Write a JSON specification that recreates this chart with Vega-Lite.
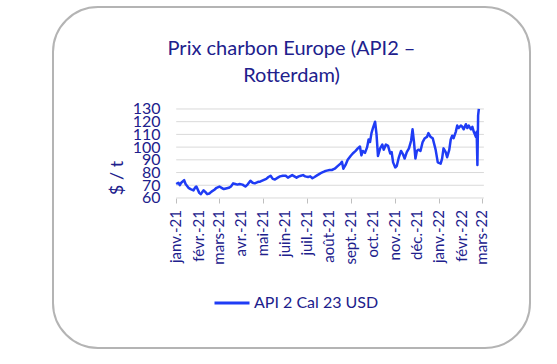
{
  "$schema": "https://vega.github.io/schema/vega-lite/v6.json",
  "autosize": "none",
  "width": 477,
  "height": 341,
  "padding": {"left": 53, "top": 7, "right": 27, "bottom": 16},
  "background": "white",
  "config": {
    "font": "Lato",
    "view": {"fill": "white", "stroke": "#b4b4b4", "strokeWidth": 2, "cornerRadius": 45},
    "axis": {"labelOverlap": false, "labelFlush": false, "labelBound": false}
  },
  "title": {
    "text": ["Prix charbon Europe (API2 –", "Rotterdam)"],
    "font": "Lato",
    "fontSize": 20,
    "fontWeight": "normal",
    "color": "#20208c",
    "lineHeight": 27,
    "anchor": "middle",
    "offset": -79
  },
  "datasets": {
    "grid": [{"g": 60}, {"g": 70}, {"g": 80}, {"g": 90}, {"g": 100}, {"g": 110}, {"g": 120}, {"g": 130}],
    "months": [
      {"m": "2021-01-01", "label": "janv.-21"}, {"m": "2021-02-01", "label": "févr.-21"}, {"m": "2021-03-01", "label": "mars-21"},
      {"m": "2021-04-01", "label": "avr.-21"}, {"m": "2021-05-01", "label": "mai-21"}, {"m": "2021-06-01", "label": "juin-21"},
      {"m": "2021-07-01", "label": "juil.-21"}, {"m": "2021-08-01", "label": "août-21"}, {"m": "2021-09-01", "label": "sept.-21"},
      {"m": "2021-10-01", "label": "oct.-21"}, {"m": "2021-11-01", "label": "nov.-21"}, {"m": "2021-12-01", "label": "déc.-21"},
      {"m": "2022-01-01", "label": "janv.-22"}, {"m": "2022-02-01", "label": "févr.-22"}, {"m": "2022-03-01", "label": "mars-22"}
    ],
    "prices": [
      {"date": "2021-01-01", "v": 71}, {"date": "2021-01-04", "v": 72}, {"date": "2021-01-06", "v": 70}, {"date": "2021-01-08", "v": 72},
      {"date": "2021-01-12", "v": 74}, {"date": "2021-01-14", "v": 71}, {"date": "2021-01-18", "v": 68}, {"date": "2021-01-21", "v": 67},
      {"date": "2021-01-25", "v": 66}, {"date": "2021-01-27", "v": 68}, {"date": "2021-01-29", "v": 69},
      {"date": "2021-02-02", "v": 64}, {"date": "2021-02-04", "v": 63}, {"date": "2021-02-08", "v": 66}, {"date": "2021-02-10", "v": 65},
      {"date": "2021-02-13", "v": 63}, {"date": "2021-02-16", "v": 63.5}, {"date": "2021-02-19", "v": 65}, {"date": "2021-02-23", "v": 66.5},
      {"date": "2021-02-26", "v": 68},
      {"date": "2021-03-02", "v": 69}, {"date": "2021-03-05", "v": 68}, {"date": "2021-03-08", "v": 67}, {"date": "2021-03-11", "v": 67.5},
      {"date": "2021-03-15", "v": 68}, {"date": "2021-03-18", "v": 69}, {"date": "2021-03-21", "v": 71.5}, {"date": "2021-03-24", "v": 71},
      {"date": "2021-03-27", "v": 70.5}, {"date": "2021-03-30", "v": 71},
      {"date": "2021-04-03", "v": 70.5}, {"date": "2021-04-07", "v": 69}, {"date": "2021-04-10", "v": 70.5}, {"date": "2021-04-14", "v": 73.5},
      {"date": "2021-04-17", "v": 72}, {"date": "2021-04-20", "v": 71.5}, {"date": "2021-04-24", "v": 72.5}, {"date": "2021-04-28", "v": 73},
      {"date": "2021-05-02", "v": 74}, {"date": "2021-05-06", "v": 75}, {"date": "2021-05-09", "v": 76.5}, {"date": "2021-05-12", "v": 77.5},
      {"date": "2021-05-15", "v": 75}, {"date": "2021-05-18", "v": 74.5}, {"date": "2021-05-22", "v": 76}, {"date": "2021-05-25", "v": 77},
      {"date": "2021-05-29", "v": 77.5},
      {"date": "2021-06-02", "v": 77.5}, {"date": "2021-06-05", "v": 76}, {"date": "2021-06-08", "v": 77}, {"date": "2021-06-11", "v": 78},
      {"date": "2021-06-14", "v": 77}, {"date": "2021-06-17", "v": 76}, {"date": "2021-06-20", "v": 77}, {"date": "2021-06-23", "v": 77.5},
      {"date": "2021-06-26", "v": 78}, {"date": "2021-06-29", "v": 77},
      {"date": "2021-07-03", "v": 76.5}, {"date": "2021-07-06", "v": 77}, {"date": "2021-07-09", "v": 75.5}, {"date": "2021-07-12", "v": 76.5},
      {"date": "2021-07-16", "v": 78}, {"date": "2021-07-19", "v": 79}, {"date": "2021-07-22", "v": 80}, {"date": "2021-07-26", "v": 81},
      {"date": "2021-07-29", "v": 81.5},
      {"date": "2021-08-02", "v": 82}, {"date": "2021-08-05", "v": 82}, {"date": "2021-08-09", "v": 83}, {"date": "2021-08-13", "v": 85},
      {"date": "2021-08-17", "v": 87}, {"date": "2021-08-19", "v": 88.5}, {"date": "2021-08-21", "v": 83}, {"date": "2021-08-24", "v": 86},
      {"date": "2021-08-27", "v": 90}, {"date": "2021-08-31", "v": 93},
      {"date": "2021-09-03", "v": 95}, {"date": "2021-09-07", "v": 97}, {"date": "2021-09-10", "v": 99}, {"date": "2021-09-13", "v": 100.5},
      {"date": "2021-09-15", "v": 93.5}, {"date": "2021-09-17", "v": 97}, {"date": "2021-09-20", "v": 95.5}, {"date": "2021-09-23", "v": 100},
      {"date": "2021-09-25", "v": 106}, {"date": "2021-09-27", "v": 104}, {"date": "2021-09-29", "v": 111},
      {"date": "2021-10-01", "v": 115}, {"date": "2021-10-04", "v": 120}, {"date": "2021-10-06", "v": 110}, {"date": "2021-10-08", "v": 93},
      {"date": "2021-10-11", "v": 99}, {"date": "2021-10-14", "v": 102}, {"date": "2021-10-16", "v": 98}, {"date": "2021-10-19", "v": 102},
      {"date": "2021-10-22", "v": 101}, {"date": "2021-10-25", "v": 95}, {"date": "2021-10-27", "v": 96}, {"date": "2021-10-29", "v": 88},
      {"date": "2021-11-01", "v": 84}, {"date": "2021-11-03", "v": 85}, {"date": "2021-11-06", "v": 92}, {"date": "2021-11-09", "v": 97},
      {"date": "2021-11-12", "v": 94}, {"date": "2021-11-14", "v": 91}, {"date": "2021-11-17", "v": 96}, {"date": "2021-11-20", "v": 99},
      {"date": "2021-11-23", "v": 105}, {"date": "2021-11-25", "v": 114}, {"date": "2021-11-27", "v": 104}, {"date": "2021-11-29", "v": 91},
      {"date": "2021-12-01", "v": 97}, {"date": "2021-12-03", "v": 98}, {"date": "2021-12-06", "v": 97}, {"date": "2021-12-09", "v": 104},
      {"date": "2021-12-12", "v": 107}, {"date": "2021-12-15", "v": 108}, {"date": "2021-12-17", "v": 111}, {"date": "2021-12-20", "v": 108},
      {"date": "2021-12-23", "v": 107}, {"date": "2021-12-27", "v": 98}, {"date": "2021-12-30", "v": 88},
      {"date": "2022-01-03", "v": 87}, {"date": "2022-01-05", "v": 91}, {"date": "2022-01-07", "v": 99}, {"date": "2022-01-10", "v": 96},
      {"date": "2022-01-12", "v": 92}, {"date": "2022-01-15", "v": 98}, {"date": "2022-01-17", "v": 106}, {"date": "2022-01-19", "v": 109},
      {"date": "2022-01-21", "v": 107}, {"date": "2022-01-24", "v": 112}, {"date": "2022-01-26", "v": 117}, {"date": "2022-01-28", "v": 115},
      {"date": "2022-01-31", "v": 117},
      {"date": "2022-02-02", "v": 116}, {"date": "2022-02-04", "v": 114}, {"date": "2022-02-07", "v": 118}, {"date": "2022-02-09", "v": 115},
      {"date": "2022-02-11", "v": 117}, {"date": "2022-02-14", "v": 114}, {"date": "2022-02-16", "v": 116}, {"date": "2022-02-18", "v": 112},
      {"date": "2022-02-21", "v": 108}, {"date": "2022-02-22", "v": 112}, {"date": "2022-02-23", "v": 86}, {"date": "2022-02-24", "v": 125},
      {"date": "2022-02-25", "v": 130}
    ]
  },
  "layer": [
    {
      "data": {"name": "grid"},
      "mark": {"type": "rule", "color": "#d9d9d9", "strokeWidth": 1},
      "encoding": {
        "x": {"datum": {"year": 2021, "month": 1, "date": 1}, "type": "temporal"},
        "x2": {"datum": {"year": 2022, "month": 3, "date": 4}},
        "y": {"field": "g", "type": "quantitative"}
      }
    },
    {
      "data": {"name": "prices"},
      "transform": [{"calculate": "'API 2 Cal 23 USD'", "as": "series"}],
      "mark": {"type": "line", "strokeWidth": 2.5, "strokeJoin": "round"},
      "encoding": {
        "x": {
          "field": "date", "type": "temporal",
          "scale": {"domain": [{"year": 2020, "month": 7, "date": 14}, {"year": 2022, "month": 5, "date": 7}]},
          "axis": {
            "title": null,
            "offset": -150,
            "domain": false,
            "grid": false,
            "ticks": true,
            "tickColor": "#bfbfbf",
            "tickSize": 5,
            "labels": false,
            "values": [
              {"year": 2021, "month": 1, "date": 1}, {"year": 2021, "month": 2, "date": 1}, {"year": 2021, "month": 3, "date": 1},
              {"year": 2021, "month": 4, "date": 1}, {"year": 2021, "month": 5, "date": 1}, {"year": 2021, "month": 6, "date": 1},
              {"year": 2021, "month": 7, "date": 1}, {"year": 2021, "month": 8, "date": 1}, {"year": 2021, "month": 9, "date": 1},
              {"year": 2021, "month": 10, "date": 1}, {"year": 2021, "month": 11, "date": 1}, {"year": 2021, "month": 12, "date": 1},
              {"year": 2022, "month": 1, "date": 1}, {"year": 2022, "month": 2, "date": 1}, {"year": 2022, "month": 3, "date": 1}
            ]
          }
        },
        "y": {
          "field": "v", "type": "quantitative",
          "scale": {"domain": [-58, 210.2], "nice": false, "zero": false},
          "axis": {
            "title": "$ / t",
            "titleFont": "Lato",
            "titleFontSize": 18,
            "titleFontWeight": "normal",
            "titleColor": "#20208c",
            "titlePadding": 6,
            "offset": -107,
            "domain": false,
            "ticks": false,
            "grid": false,
            "labelPadding": 0,
            "labelOverlap": false,
            "labelFlush": false,
            "labelBound": false,
            "labelFont": "Lato",
            "labelFontSize": 16,
            "labelColor": "#20208c",
            "values": [60, 70, 80, 90, 100, 110, 120, 130]
          }
        },
        "color": {
          "field": "series", "type": "nominal",
          "scale": {"range": ["#1f3cf5"]},
          "legend": {
            "title": null,
            "orient": "none",
            "legendX": 160,
            "legendY": 277,
            "symbolType": "stroke",
            "symbolSize": 1225,
            "symbolStrokeWidth": 3,
            "labelFont": "Lato",
            "labelFontSize": 16,
            "labelColor": "#20208c",
            "labelOffset": 3
          }
        }
      }
    },
    {
      "data": {"name": "months"},
      "mark": {"type": "text", "angle": 270, "align": "right", "baseline": "middle", "dx": -12, "font": "Lato", "fontSize": 15, "color": "#20208c"},
      "encoding": {
        "x": {"field": "m", "type": "temporal"},
        "y": {"datum": 60},
        "text": {"field": "label"}
      }
    }
  ]
}
